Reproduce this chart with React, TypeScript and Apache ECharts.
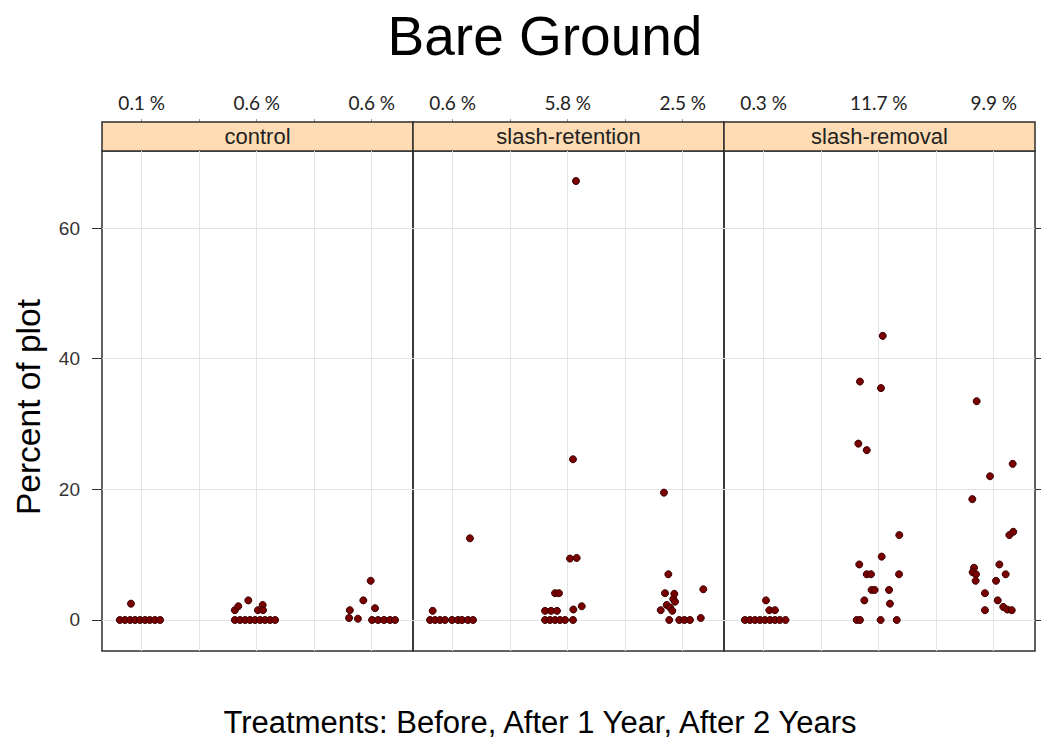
import React, { useEffect, useRef } from "react";
import * as echarts from "echarts";

// ---------- data ----------
const chartTitle = "Bare Ground";
const yAxisTitle = "Percent of plot";
const xAxisTitle = "Treatments: Before, After 1 Year, After 2 Years";
const treatments = ["control", "slash-retention", "slash-removal"];
const periods = ["Before", "After 1 Year", "After 2 Years"];
const meanLabels = [
  ["0.1 %", "0.6 %", "0.6 %"],
  ["0.6 %", "5.8 %", "2.5 %"],
  ["0.3 %", "11.7 %", "9.9 %"],
];
const yTicks = [0, 20, 40, 60];
const xGridValues = [1, 1.5, 2, 2.5, 3];
const periodPositions = [1, 2, 3];

// each point: [jitter offset from its period position, percent of plot]
const controlBefore = [
  [-0.19, 0], [-0.145, 0], [-0.1, 0], [-0.058, 0], [-0.015, 0], [0.03, 0], [0.07, 0], [0.115, 0], [0.16, 0],
  [-0.093, 2.5],
];
const controlAfter1 = [
  [-0.19, 0], [-0.145, 0], [-0.1, 0], [-0.058, 0], [-0.015, 0], [0.03, 0], [0.072, 0], [0.116, 0], [0.16, 0],
  [-0.19, 1.5], [-0.16, 2.1], [-0.073, 3.0], [0.011, 1.5], [0.052, 2.3], [0.055, 1.5],
];
const controlAfter2 = [
  [0.003, 0], [0.055, 0], [0.107, 0], [0.159, 0], [0.203, 0], [-0.12, 0.2], [-0.197, 0.3],
  [-0.19, 1.5], [-0.073, 3.0], [-0.009, 6.0], [0.029, 1.8],
];
const retentionBefore = [
  [-0.197, 0], [-0.154, 0], [-0.11, 0], [-0.067, 0], [-0.006, 0], [0.046, 0], [0.081, 0], [0.133, 0], [0.177, 0],
  [-0.174, 1.4], [0.15, 12.5],
];
const retentionAfter1 = [
  [0.02, 9.4], [0.078, 9.5], [0.072, 67.2], [0.046, 24.6],
  [-0.197, 0], [-0.154, 0], [-0.11, 0], [-0.067, 0], [-0.023, 0], [0.046, 0],
  [-0.197, 1.4], [-0.145, 1.4], [-0.093, 1.4], [0.049, 1.6], [0.122, 2.1],
  [-0.11, 4.1], [-0.076, 4.1],
];
const retentionAfter2 = [
  [-0.125, 7.0], [-0.163, 19.5], [-0.154, 4.1], [-0.073, 4.0], [0.179, 4.7], [-0.082, 3.2], [-0.067, 2.8],
  [-0.139, 2.3], [-0.191, 1.5], [-0.11, 1.9], [-0.09, 1.4],
  [-0.117, 0], [-0.03, 0], [0.014, 0], [0.063, 0], [0.157, 0.3],
];
const removalBefore = [
  [-0.163, 0], [-0.12, 0], [-0.076, 0], [-0.032, 0], [0.011, 0], [0.055, 0], [0.098, 0], [0.14, 0], [0.19, 0],
  [0.02, 3.0], [0.049, 1.5], [0.098, 1.5],
];
const removalAfter1 = [
  [0.035, 43.5], [-0.163, 36.5], [0.02, 35.5], [-0.177, 27.0], [-0.104, 26.0], [0.179, 13.0],
  [-0.169, 8.5], [-0.104, 7.0], [-0.067, 7.0], [0.026, 9.7], [0.177, 7.0],
  [-0.062, 4.6], [-0.035, 4.6], [0.09, 4.6], [-0.125, 3.0], [0.098, 2.5],
  [-0.191, 0], [-0.163, 0], [0.017, 0], [0.157, 0],
];
const removalAfter2 = [
  [-0.148, 33.5], [0.165, 23.9], [-0.032, 22.0], [-0.186, 18.5], [0.136, 13.0], [0.17, 13.5],
  [-0.171, 8.0], [-0.183, 7.3], [-0.154, 7.0], [-0.157, 6.0], [0.049, 8.5], [0.104, 7.0], [0.02, 6.0],
  [-0.076, 4.1], [0.035, 3.0], [-0.076, 1.5], [0.083, 2.0], [0.118, 1.6], [0.157, 1.5],
];

const panelData = [
  [controlBefore, controlAfter1, controlAfter2],
  [retentionBefore, retentionAfter1, retentionAfter2],
  [removalBefore, removalAfter1, removalAfter2],
];

// ---------- layout ----------
const PANEL_LEFT = 102;
const PANEL_W = 311;
const PLOT_TOP = 151;
const PLOT_H = 500;
const STRIP_H = 29;
const X_MIN = 0.655;
const X_MAX = 3.359;
const Y_MIN = -4.75;
const Y_MAX = 71.8;
const POINT_COLOR = "#7a0000";
const SANS = "'Liberation Sans', Arial, sans-serif";

function buildOption() {
  const grid = treatments.map((_, i) => ({
    left: PANEL_LEFT + i * PANEL_W,
    top: PLOT_TOP,
    width: PANEL_W,
    height: PLOT_H,
    show: true,
    borderColor: "#2e2e2e",
    borderWidth: 1.5,
    backgroundColor: "transparent",
    containLabel: false,
  }));

  const xAxis: any[] = [];
  treatments.forEach((_, i) => {
    xAxis.push({
      gridIndex: i,
      type: "value",
      min: X_MIN,
      max: X_MAX,
      position: "bottom",
      axisLine: { show: false },
      axisTick: { show: true, inside: false, length: 4, customValues: xGridValues, lineStyle: { color: "#333" } },
      axisLabel: { show: false },
      splitLine: { show: false },
    });
    xAxis.push({
      gridIndex: i,
      type: "value",
      min: X_MIN,
      max: X_MAX,
      position: "top",
      offset: STRIP_H,
      axisLine: { show: false },
      axisTick: { show: true, inside: false, length: 3, customValues: xGridValues, lineStyle: { color: "#999" } },
      axisLabel: {
        show: true,
        customValues: periodPositions,
        formatter: (v: number) => meanLabels[i][Math.round(v) - 1],
        margin: 10,
        fontFamily: "Lato, 'Open Sans', sans-serif",
        fontSize: 19,
        color: "#222",
      },
      splitLine: { show: false },
    });
  });

  const yAxis: any[] = treatments.map((_, i) => ({
    gridIndex: i,
    type: "value",
    min: Y_MIN,
    max: Y_MAX,
    position: "left",
    axisLine: { show: false },
    axisTick: { show: i === 0, inside: false, length: 10, customValues: yTicks, lineStyle: { color: "#333" } },
    axisLabel: {
      show: i === 0,
      customValues: yTicks,
      margin: 22,
      fontFamily: SANS,
      fontSize: 19,
      color: "#333",
    },
    splitLine: { show: false },
  }));
  yAxis.push({
    gridIndex: 2,
    type: "value",
    min: Y_MIN,
    max: Y_MAX,
    position: "right",
    axisLine: { show: false },
    axisTick: { show: true, inside: false, length: 6, customValues: yTicks, lineStyle: { color: "#333" } },
    axisLabel: { show: false },
    splitLine: { show: false },
  });

  const series = treatments.map((name, i) => ({
    name,
    type: "scatter",
    xAxisIndex: i * 2,
    yAxisIndex: i,
    z: 10,
    symbol: "circle",
    symbolSize: 7,
    itemStyle: { color: POINT_COLOR, borderColor: "#3a0000", borderWidth: 1, opacity: 1 },
    emphasis: { disabled: true },
    data: panelData[i].flatMap((pts, p) =>
      pts.map(([off, v]) => [periodPositions[p] + off, v, periods[p]])
    ),
    markLine: {
      silent: true,
      symbol: "none",
      label: { show: false },
      emphasis: { disabled: true },
      lineStyle: { color: "#e4e4e4", width: 1, type: "solid" },
      data: [
        ...xGridValues.map((v) => ({ xAxis: v })),
        ...yTicks.map((v) => ({ yAxis: v })),
      ],
    },
  }));

  const graphic: any[] = [
    {
      type: "text",
      x: 545,
      y: 36,
      style: {
        text: chartTitle,
        font: `normal 55px ${SANS}`,
        fill: "#000",
        textAlign: "center",
        textVerticalAlign: "middle",
      },
    },
    {
      type: "text",
      x: 28,
      y: 407,
      rotation: Math.PI / 2,
      style: {
        text: yAxisTitle,
        font: `normal 33.5px ${SANS}`,
        fill: "#000",
        textAlign: "center",
        textVerticalAlign: "middle",
      },
    },
    {
      type: "text",
      x: 540,
      y: 722,
      style: {
        text: xAxisTitle,
        font: `normal 31px ${SANS}`,
        fill: "#000",
        textAlign: "center",
        textVerticalAlign: "middle",
      },
    },
  ];
  treatments.forEach((name, i) => {
    graphic.push({
      type: "rect",
      shape: { x: PANEL_LEFT + i * PANEL_W, y: PLOT_TOP - STRIP_H, width: PANEL_W, height: STRIP_H },
      style: { fill: "#ffdcb4", stroke: "#2e2e2e", lineWidth: 1.5 },
      z: 5,
    });
    graphic.push({
      type: "text",
      x: PANEL_LEFT + i * PANEL_W + PANEL_W / 2,
      y: PLOT_TOP - STRIP_H / 2,
      z: 6,
      style: {
        text: name,
        font: `normal 22px ${SANS}`,
        fill: "#222",
        textAlign: "center",
        textVerticalAlign: "middle",
      },
    });
  });

  return {
    animation: false,
    backgroundColor: "#ffffff",
    grid,
    xAxis,
    yAxis,
    series,
    graphic,
  };
}

export default function App() {
  const ref = useRef<HTMLDivElement>(null);
  useEffect(() => {
    if (!ref.current) return;
    const chart = echarts.init(ref.current, null, { renderer: "svg", width: 1041, height: 745 });
    chart.setOption(buildOption() as any);
    return () => chart.dispose();
  }, []);
  return (
    <div
      ref={ref}
      style={{ position: "fixed", left: 0, top: 0, width: 1041, height: 745, background: "#fff" }}
    />
  );
}
